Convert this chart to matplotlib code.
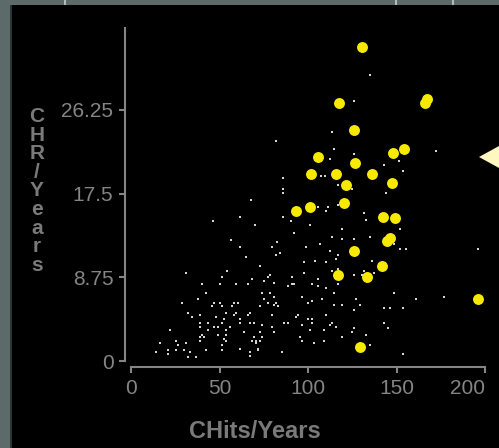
import matplotlib.pyplot as plt
from matplotlib.patches import Rectangle, Polygon

# all players: career hits per year vs career home runs per year
chits = [46.5, 81.8, 86.1, 86.1, 86.1, 68.0, 61.4, 86.1, 90.6, 70.2, 101.0, 91.9, 56.7, 82.7,
         113.4, 114.5, 112.3, 125.8, 142.8, 151.6, 153.9, 107.5, 109.4, 116.8, 124.7, 143.9,
         105.5, 111.1, 110.0, 116.8, 131.5, 132.6, 119.0, 151.8, 113.4, 119.0, 125.8, 134.9,
         172.2, 134.9, 125.8,
         30.9, 51.2, 54.4, 39.9, 50.1, 42.2, 37.7, 28.6, 46.7, 50.1, 45.6, 51.2, 53.5, 32.0,
         34.3, 38.8, 47.9, 52.4, 38.8, 43.3, 51.2, 38.8, 46.7, 49.0, 21.9, 43.3, 53.5, 39.9,
         49.0, 53.5, 41.1, 38.8, 52.3, 38.8, 53.5, 25.3, 16.2, 26.4, 30.9, 51.2, 20.7, 25.3,
         29.8, 42.2, 51.2, 14.0, 20.7, 33.2, 32.0, 36.5,
         61.4, 79.5, 98.7, 64.8, 81.8, 84.0, 97.6, 104.1, 72.7, 97.6, 77.2, 78.4, 68.2, 90.8,
         75.0, 80.6, 59.2, 65.9, 88.5, 90.8, 92.0, 102.1, 73.8, 78.4, 96.4, 80.6, 75.0, 102.1,
         58.0, 60.3, 77.2, 81.8, 99.8, 56.9, 72.7, 80.6, 82.9, 59.2, 58.0, 65.9, 67.1, 79.5,
         94.2, 93.1, 61.4, 99.8, 102.1, 61.4, 67.1, 69.3, 86.3, 88.5, 73.8, 96.4, 102.1, 55.8,
         79.5, 100.9, 63.7, 72.7, 80.6, 95.3, 69.3, 73.8, 96.4, 68.2, 70.5, 70.5, 72.7, 103.2,
         61.4, 71.6, 71.6, 85.1, 67.1, 67.1,
         106.6, 112.3, 116.8, 115.7, 110.0, 136.0, 151.8, 148.4, 113.4, 116.8, 125.8, 130.3,
         131.5, 137.1, 105.5, 116.8, 105.5, 110.0, 114.5, 148.4, 107.7, 127.0, 114.5, 119.0,
         129.2, 142.8, 146.1, 153.9, 125.8, 110.0, 142.8, 113.4, 112.3, 115.7, 125.8, 145.0,
         108.9, 124.7, 132.6, 119.0, 108.9, 134.9, 153.9,
         155.2, 195.9, 160.9, 176.6]
chr_ = [14.6, 23.0, 19.1, 18.0, 17.6, 16.8, 15.1, 15.1, 14.6, 14.2, 14.2, 13.4, 12.6, 12.4,
        23.9, 22.2, 21.1, 21.6, 20.5, 20.9, 19.9, 19.3, 19.3, 18.4, 18.0, 17.6,
        16.1, 16.1, 15.7, 16.3, 15.5, 14.7, 13.8, 13.8, 13.0, 12.8, 12.8, 13.0,
        22.0, 29.9, 27.2,
        9.2, 8.8, 9.4, 8.0, 8.0, 7.1, 6.5, 6.1, 6.1, 6.1, 5.7, 5.7, 5.0, 5.0,
        4.6, 4.8, 4.6, 4.4, 4.0, 4.0, 4.0, 3.6, 3.6, 3.6, 3.2, 3.2, 3.2, 2.7,
        2.7, 2.7, 2.5, 2.5, 2.3, 2.1, 2.1, 2.1, 1.9, 1.7, 1.9, 1.7, 1.1, 1.1,
        1.1, 1.1, 1.1, 0.9, 0.7, 0.9, 0.4, 0.4,
        11.9, 11.9, 11.9, 10.9, 11.1, 11.3, 10.3, 10.5, 9.9, 9.2, 8.8, 9.0, 8.6, 8.8,
        8.4, 8.2, 8.0, 8.0, 7.8, 8.0, 8.0, 8.0, 7.1, 7.1, 6.7, 6.7, 6.5, 6.3,
        6.1, 6.1, 6.1, 6.1, 6.1, 5.7, 5.7, 5.9, 5.7, 5.0, 4.8, 4.8, 5.0, 4.8,
        4.8, 4.6, 4.4, 4.4, 4.4, 4.0, 4.0, 4.0, 4.0, 4.0, 3.8, 3.8, 4.0, 3.6,
        3.6, 3.2, 3.0, 3.0, 3.0, 2.5, 2.5, 2.5, 2.1, 2.1, 2.1, 1.9, 2.1, 1.9,
        1.3, 1.3, 1.1, 0.9, 0.9, 0.5,
        12.2, 11.5, 11.1, 10.7, 10.3, 10.5, 11.7, 12.2, 9.4, 9.6, 9.0, 9.0,
        9.4, 9.2, 8.6, 8.0, 7.8, 7.6, 7.1, 7.1, 6.5, 6.5, 5.9, 5.9,
        5.9, 5.5, 5.5, 5.5, 5.3, 4.8, 4.0, 4.0, 3.8, 3.6, 3.4, 3.4,
        3.2, 3.0, 2.7, 2.5, 2.1, 1.7, 0.7,
        11.7, 11.7, 6.5, 6.7]

# highlighted (brushed) players
sel_chits = [130.4, 117.7, 167.3, 166.2, 125.8, 154.1, 148.2, 105.5, 126.7, 101.9, 115.7, 136.0,
             121.4, 147.2, 120.1, 101.1, 93.1, 142.5, 149.3, 146.4, 144.5, 125.8, 141.7, 116.8,
             133.6, 195.9, 129.2]
sel_chr = [32.8, 27.0, 27.4, 27.0, 24.1, 22.2, 21.7, 21.3, 20.7, 19.5, 19.5, 19.5,
           18.4, 18.6, 16.5, 16.1, 15.7, 15.1, 14.9, 12.9, 12.5, 11.5, 9.9, 9.0,
           8.8, 6.5, 1.5]

xticks = [0, 50, 100, 150, 200]
yticks = [0, 8.75, 17.5, 26.25]
ytick_labels = ["0", "8.75", "17.5", "26.25"]

W, H = 499, 448
grey = "#858585"

fig = plt.figure(figsize=(W / 100, H / 100), dpi=100, facecolor="black")
ax = fig.add_axes([125 / W, 1 - 367 / H, 361 / W, 339 / H], facecolor="black")

ax.scatter(chits, chr_, s=3, marker="s", color="#d4d4d4", linewidths=0, zorder=2)
ax.scatter(sel_chits, sel_chr, s=62, marker="o", color="#f7ea00", linewidths=0, zorder=3)

ax.set_xlim(-3.39, 200.56)
ax.set_ylim(-0.627, 34.81)
for side in ["top", "right"]:
    ax.spines[side].set_visible(False)
for side in ["left", "bottom"]:
    ax.spines[side].set_color(grey)
    ax.spines[side].set_linewidth(1.5)
ax.spines["left"].set_bounds(0, 34.81)
ax.spines["bottom"].set_bounds(0, 200)

ax.set_xticks(xticks)
ax.set_xticklabels([str(t) for t in xticks])
ax.set_yticks(yticks)
ax.set_yticklabels(ytick_labels)
ax.tick_params(direction="out", length=4.3, width=1.5, color=grey, labelcolor=grey, pad=4,
               labelsize=15)
for lab in ax.get_xticklabels() + ax.get_yticklabels():
    lab.set_family("Liberation Sans")
# last x label sits inside the frame, flush with its tick
ax.get_xticklabels()[-1].set_horizontalalignment("right")

fig.text(255 / W, 1 - 431 / H, "CHits/Years", ha="center", va="center", color="#7a7a7a",
         fontsize=17, fontweight="bold", family="Liberation Sans")
fig.text(37 / W, 1 - 191 / H, "C\nH\nR\n/\nY\ne\na\nr\ns", ha="center", va="center",
         color="#7a7a7a", fontsize=15, fontweight="bold", family="Liberation Sans",
         linespacing=0.97)

# window frame bits
fig.patches.append(Rectangle((0, 0), 10 / W, 1, transform=fig.transFigure,
                             facecolor="#5c6a6a", edgecolor="none", zorder=5))
fig.patches.append(Rectangle((10 / W, 0), 1.5 / W, 1, transform=fig.transFigure,
                             facecolor="#2c3434", edgecolor="none", zorder=5))
fig.patches.append(Rectangle((0, 1 - 5 / H), 1, 5 / H, transform=fig.transFigure,
                             facecolor="#5c6a6a", edgecolor="none", zorder=5))
for sx in [64, 395, 452]:
    fig.patches.append(Rectangle((sx / W, 1 - 5 / H), 1.5 / W, 5 / H, transform=fig.transFigure,
                                 facecolor="#b0bcbc", edgecolor="none", zorder=6))

# pointer on the right edge
fig.patches.append(Polygon([(479 / W, 1 - 157 / H), (499 / W, 1 - 146 / H), (499 / W, 1 - 168 / H)],
                           closed=True, transform=fig.transFigure, facecolor="#fff6c0",
                           edgecolor="none", zorder=6))

fig.savefig("out.png", dpi=100, facecolor="black")
